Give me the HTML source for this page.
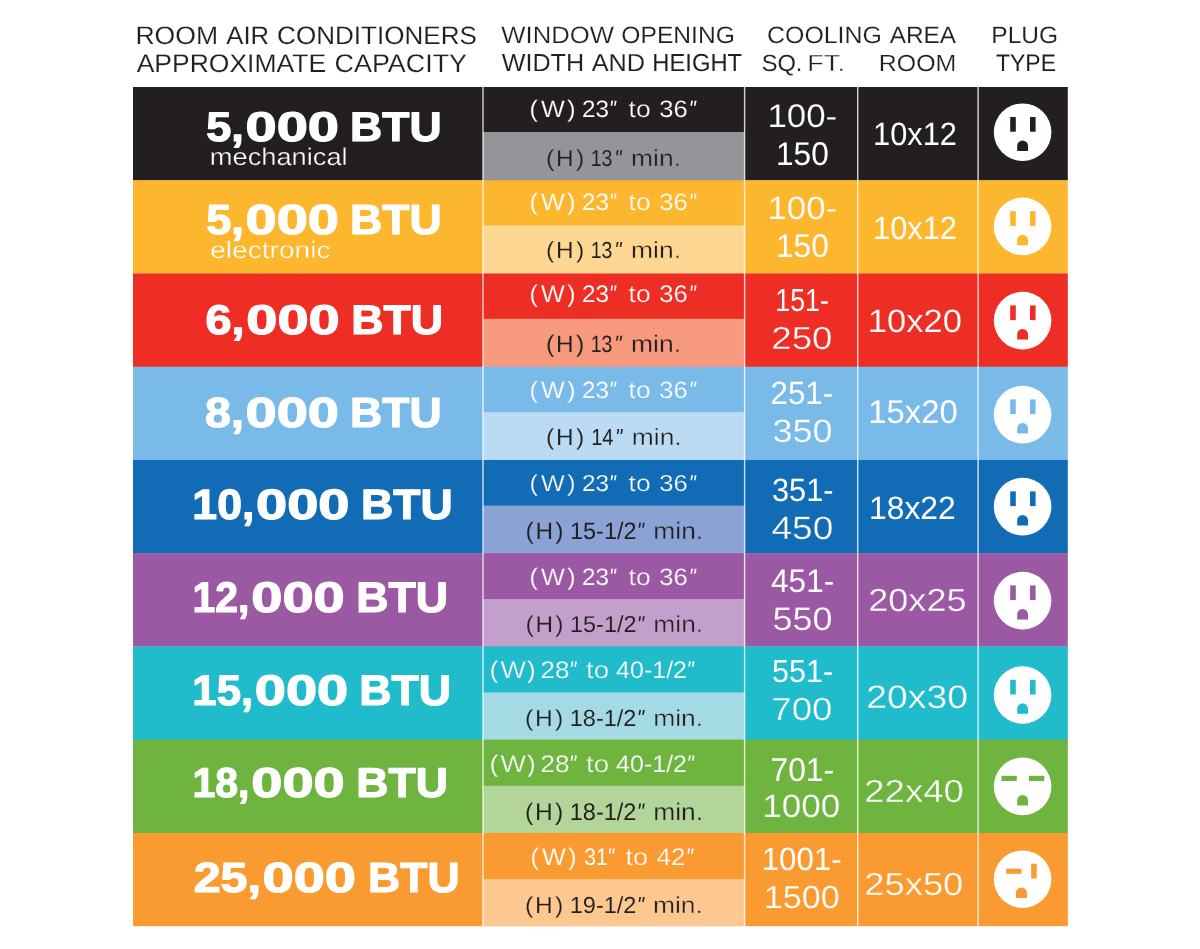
<!DOCTYPE html>
<html lang="en">
<head>
<meta charset="utf-8">
<title>Room Air Conditioners Approximate Capacity</title>
<style>
html,body{margin:0;padding:0;background:#fff}
body{width:1200px;height:949px;overflow:hidden}
svg{display:block;font-family:"Liberation Sans",sans-serif}
text{white-space:pre;text-rendering:geometricPrecision}
</style>
</head>
<body>
<svg width="1200" height="949" viewBox="0 0 1200 949">
<rect width="1200" height="949" fill="#fff"/>
<g id="header">
  <text y="44" font-size="25.17" fill="#231f20"><tspan x="135.42" textLength="82.67" lengthAdjust="spacingAndGlyphs" stroke="#fff" stroke-width="0.16">ROOM</tspan> <tspan x="226.30" textLength="42.89" lengthAdjust="spacingAndGlyphs" stroke="#fff" stroke-width="0.09">AIR</tspan> <tspan x="277.08" textLength="199.82" lengthAdjust="spacingAndGlyphs" stroke="#fff" stroke-width="0.12">CONDITIONERS</tspan></text>
  <text y="72" font-size="25.60" fill="#231f20"><tspan x="136.70" textLength="189.41" lengthAdjust="spacingAndGlyphs" stroke="#fff" stroke-width="0.12">APPROXIMATE</tspan> <tspan x="334.54" textLength="132.45" lengthAdjust="spacingAndGlyphs" stroke="#fff" stroke-width="0.15">CAPACITY</tspan></text>
  <text y="43" font-size="23.75" fill="#231f20"><tspan x="501.30" textLength="112.66" lengthAdjust="spacingAndGlyphs" stroke="#fff" stroke-width="0.21">WINDOW</tspan> <tspan x="621.35" textLength="113.49" lengthAdjust="spacingAndGlyphs" stroke="#fff" stroke-width="0.12">OPENING</tspan></text>
  <text y="71" font-size="24.60" fill="#231f20"><tspan x="501.70" textLength="82.35" lengthAdjust="spacingAndGlyphs" stroke="#fff" stroke-width="0.09">WIDTH</tspan> <tspan x="591.70" textLength="53.38" lengthAdjust="spacingAndGlyphs" stroke="#fff" stroke-width="0.10">AND</tspan> <tspan x="652.34" textLength="89.76" lengthAdjust="spacingAndGlyphs">HEIGHT</tspan></text>
  <text y="43" font-size="23.75" fill="#231f20"><tspan x="767.13" textLength="114.72" lengthAdjust="spacingAndGlyphs" stroke="#fff" stroke-width="0.14">COOLING</tspan> <tspan x="889.70" textLength="66.48" lengthAdjust="spacingAndGlyphs" stroke="#fff" stroke-width="0.10">AREA</tspan></text>
  <text y="71" font-size="23.32" fill="#231f20"><tspan x="761.66" textLength="40.78" lengthAdjust="spacingAndGlyphs" stroke="#fff" stroke-width="0.07">SQ.</tspan> <tspan x="807.28" textLength="37.67" lengthAdjust="spacingAndGlyphs" stroke="#fff" stroke-width="0.36">FT.</tspan></text>
  <text y="71" font-size="23.32" fill="#231f20"><tspan x="878.85" textLength="77.53" lengthAdjust="spacingAndGlyphs" stroke="#fff" stroke-width="0.19">ROOM</tspan></text>
  <text y="43" font-size="23.75" fill="#231f20"><tspan x="991.39" textLength="66.75" lengthAdjust="spacingAndGlyphs" stroke="#fff" stroke-width="0.11">PLUG</tspan></text>
  <text y="71" font-size="23.89" fill="#231f20"><tspan x="996.04" textLength="59.92" lengthAdjust="spacingAndGlyphs">TYPE</tspan></text>
</g>
<g id="row-1">
  <rect x="133.0" y="87.00" width="934.80" height="93.54" fill="#231f20"/>
  <rect x="483.0" y="132.00" width="261.60" height="48.54" fill="#939598"/>
  <text y="141" font-size="41.46" font-weight="700" fill="#fff" stroke="#fff" stroke-width="1.2" stroke-linejoin="round"><tspan x="206.25" textLength="37.56" lengthAdjust="spacingAndGlyphs">5,</tspan><tspan x="245.56" textLength="93.40" lengthAdjust="spacingAndGlyphs">000</tspan> <tspan x="350.06" textLength="91.64" lengthAdjust="spacingAndGlyphs">BTU</tspan></text>
  <text y="165" font-size="24.24" fill="#fff"><tspan x="209.80" textLength="137.90" lengthAdjust="spacingAndGlyphs" stroke="#231f20" stroke-width="0.31">mechanical</tspan></text>
  <text y="117" font-size="23.75" fill="#fff"><tspan x="529.53" textLength="8.29" lengthAdjust="spacingAndGlyphs" stroke="#231f20" stroke-width="0.14">(</tspan><tspan x="540.90" textLength="23.77" lengthAdjust="spacingAndGlyphs" stroke="#231f20" stroke-width="0.17">W</tspan><tspan x="567.20" textLength="8.29" lengthAdjust="spacingAndGlyphs" stroke="#231f20" stroke-width="0.14">)</tspan> <tspan x="581.96" textLength="27.02" lengthAdjust="spacingAndGlyphs" stroke="#231f20" stroke-width="0.09">23</tspan><tspan x="608.90" textLength="6.82" lengthAdjust="spacingAndGlyphs" font-style="italic">&quot;</tspan> <tspan x="628.60" textLength="22.07" lengthAdjust="spacingAndGlyphs" stroke="#231f20" stroke-width="0.28">to</tspan> <tspan x="659.20" textLength="28.43" lengthAdjust="spacingAndGlyphs" stroke="#231f20" stroke-width="0.20">36</tspan><tspan x="688.85" textLength="7.03" lengthAdjust="spacingAndGlyphs" font-style="italic">&quot;</tspan></text>
  <text y="166" font-size="23.04" fill="#231f20"><tspan x="546.13" textLength="8.29" lengthAdjust="spacingAndGlyphs" stroke="#939598" stroke-width="0.21">(</tspan><tspan x="556.10" textLength="17.59" lengthAdjust="spacingAndGlyphs" stroke="#939598" stroke-width="0.16">H</tspan><tspan x="576.00" textLength="8.29" lengthAdjust="spacingAndGlyphs" stroke="#939598" stroke-width="0.21">)</tspan> <tspan x="590.78" textLength="21.71" lengthAdjust="spacingAndGlyphs">13</tspan><tspan x="614.30" textLength="7.25" lengthAdjust="spacingAndGlyphs" font-style="italic">&quot;</tspan> <tspan x="631.05" textLength="49.94" lengthAdjust="spacingAndGlyphs" stroke="#939598" stroke-width="0.35">min.</tspan></text>
  <text y="127" font-size="32.57" fill="#fff"><tspan x="767.42" textLength="69.84" lengthAdjust="spacingAndGlyphs" stroke="#231f20" stroke-width="0.19">100-</tspan></text>
  <text y="165" font-size="32.85" fill="#fff"><tspan x="776.02" textLength="52.76" lengthAdjust="spacingAndGlyphs">150</tspan></text>
  <text y="145" font-size="32.28" fill="#fff"><tspan x="873.08" textLength="83.77" lengthAdjust="spacingAndGlyphs">10x12</tspan></text>
  <g class="plug"><circle cx="1022.60" cy="132.20" r="28.8" fill="#fff"/><rect x="1010.20" y="117.00" width="5.60" height="14.70" fill="#231f20"/><rect x="1030.00" y="117.00" width="5.60" height="14.70" fill="#231f20"/><path d="M1017.20 151.00V145.90A5.40 5.40 0 0 1 1028.00 145.90V151.00Z" fill="#231f20"/></g>
</g>
<g id="row-2">
  <rect x="133.0" y="180.24" width="934.80" height="93.54" fill="#fdb72f"/>
  <rect x="483.0" y="225.40" width="261.60" height="48.38" fill="#fed892"/>
  <text y="234" font-size="42.17" font-weight="700" fill="#fff" stroke="#fff" stroke-width="1.2" stroke-linejoin="round"><tspan x="206.24" textLength="37.58" lengthAdjust="spacingAndGlyphs">5,</tspan><tspan x="245.55" textLength="93.43" lengthAdjust="spacingAndGlyphs">000</tspan> <tspan x="350.05" textLength="91.66" lengthAdjust="spacingAndGlyphs">BTU</tspan></text>
  <text y="258" font-size="23.69" fill="#fff"><tspan x="210.22" textLength="120.32" lengthAdjust="spacingAndGlyphs" stroke="#fdb72f" stroke-width="0.36">electronic</tspan></text>
  <text y="210" font-size="23.75" fill="#fff"><tspan x="529.53" textLength="8.29" lengthAdjust="spacingAndGlyphs" stroke="#fdb72f" stroke-width="0.14">(</tspan><tspan x="540.90" textLength="23.77" lengthAdjust="spacingAndGlyphs" stroke="#fdb72f" stroke-width="0.17">W</tspan><tspan x="567.20" textLength="8.29" lengthAdjust="spacingAndGlyphs" stroke="#fdb72f" stroke-width="0.14">)</tspan> <tspan x="581.96" textLength="27.02" lengthAdjust="spacingAndGlyphs" stroke="#fdb72f" stroke-width="0.09">23</tspan><tspan x="608.90" textLength="6.82" lengthAdjust="spacingAndGlyphs" font-style="italic">&quot;</tspan> <tspan x="628.60" textLength="22.07" lengthAdjust="spacingAndGlyphs" stroke="#fdb72f" stroke-width="0.28">to</tspan> <tspan x="659.20" textLength="28.43" lengthAdjust="spacingAndGlyphs" stroke="#fdb72f" stroke-width="0.20">36</tspan><tspan x="688.85" textLength="7.03" lengthAdjust="spacingAndGlyphs" font-style="italic">&quot;</tspan></text>
  <text y="258" font-size="23.32" fill="#231f20"><tspan x="546.13" textLength="8.29" lengthAdjust="spacingAndGlyphs" stroke="#fed892" stroke-width="0.18">(</tspan><tspan x="556.10" textLength="17.59" lengthAdjust="spacingAndGlyphs" stroke="#fed892" stroke-width="0.14">H</tspan><tspan x="576.00" textLength="8.29" lengthAdjust="spacingAndGlyphs" stroke="#fed892" stroke-width="0.18">)</tspan> <tspan x="590.78" textLength="21.71" lengthAdjust="spacingAndGlyphs">13</tspan><tspan x="614.30" textLength="7.25" lengthAdjust="spacingAndGlyphs" font-style="italic">&quot;</tspan> <tspan x="631.05" textLength="49.94" lengthAdjust="spacingAndGlyphs" stroke="#fed892" stroke-width="0.32">min.</tspan></text>
  <text y="219" font-size="32.28" fill="#fff"><tspan x="767.42" textLength="69.84" lengthAdjust="spacingAndGlyphs" stroke="#fdb72f" stroke-width="0.21">100-</tspan></text>
  <text y="257" font-size="32.85" fill="#fff"><tspan x="776.02" textLength="52.76" lengthAdjust="spacingAndGlyphs">150</tspan></text>
  <text y="239" font-size="32.28" fill="#fff"><tspan x="873.08" textLength="83.77" lengthAdjust="spacingAndGlyphs">10x12</tspan></text>
  <g class="plug"><circle cx="1022.60" cy="226.40" r="28.8" fill="#fff"/><rect x="1010.20" y="211.20" width="5.60" height="14.70" fill="#fdb72f"/><rect x="1030.00" y="211.20" width="5.60" height="14.70" fill="#fdb72f"/><path d="M1017.20 245.20V240.10A5.40 5.40 0 0 1 1028.00 240.10V245.20Z" fill="#fdb72f"/></g>
</g>
<g id="row-3">
  <rect x="133.0" y="273.48" width="934.80" height="93.54" fill="#ee2d24"/>
  <rect x="483.0" y="318.80" width="261.60" height="48.22" fill="#f6997c"/>
  <text y="334" font-size="41.46" font-weight="700" fill="#fff" stroke="#fff" stroke-width="1.2" stroke-linejoin="round"><tspan x="205.51" textLength="39.08" lengthAdjust="spacingAndGlyphs">6,</tspan><tspan x="246.26" textLength="93.40" lengthAdjust="spacingAndGlyphs">000</tspan> <tspan x="351.15" textLength="91.95" lengthAdjust="spacingAndGlyphs">BTU</tspan></text>
  <text y="302" font-size="24.04" fill="#fff"><tspan x="529.53" textLength="8.29" lengthAdjust="spacingAndGlyphs" stroke="#ee2d24" stroke-width="0.12">(</tspan><tspan x="540.90" textLength="23.77" lengthAdjust="spacingAndGlyphs" stroke="#ee2d24" stroke-width="0.14">W</tspan><tspan x="567.20" textLength="8.29" lengthAdjust="spacingAndGlyphs" stroke="#ee2d24" stroke-width="0.12">)</tspan> <tspan x="581.96" textLength="27.02" lengthAdjust="spacingAndGlyphs" stroke="#ee2d24" stroke-width="0.07">23</tspan><tspan x="608.90" textLength="6.82" lengthAdjust="spacingAndGlyphs" font-style="italic">&quot;</tspan> <tspan x="628.60" textLength="22.07" lengthAdjust="spacingAndGlyphs" stroke="#ee2d24" stroke-width="0.26">to</tspan> <tspan x="659.20" textLength="28.43" lengthAdjust="spacingAndGlyphs" stroke="#ee2d24" stroke-width="0.18">36</tspan><tspan x="688.85" textLength="7.03" lengthAdjust="spacingAndGlyphs" font-style="italic">&quot;</tspan></text>
  <text y="352" font-size="23.75" fill="#231f20"><tspan x="546.13" textLength="8.29" lengthAdjust="spacingAndGlyphs" stroke="#f6997c" stroke-width="0.14">(</tspan><tspan x="556.10" textLength="17.59" lengthAdjust="spacingAndGlyphs" stroke="#f6997c" stroke-width="0.10">H</tspan><tspan x="576.00" textLength="8.29" lengthAdjust="spacingAndGlyphs" stroke="#f6997c" stroke-width="0.14">)</tspan> <tspan x="590.78" textLength="21.71" lengthAdjust="spacingAndGlyphs">13</tspan><tspan x="614.30" textLength="7.25" lengthAdjust="spacingAndGlyphs" font-style="italic">&quot;</tspan> <tspan x="631.05" textLength="49.94" lengthAdjust="spacingAndGlyphs" stroke="#f6997c" stroke-width="0.28">min.</tspan></text>
  <text y="311" font-size="31.86" fill="#fff"><tspan x="775.32" textLength="53.64" lengthAdjust="spacingAndGlyphs">151-</tspan></text>
  <text y="349" font-size="31.86" fill="#fff"><tspan x="771.28" textLength="61.23" lengthAdjust="spacingAndGlyphs" stroke="#ee2d24" stroke-width="0.36">250</tspan></text>
  <text y="332" font-size="32.28" fill="#fff"><tspan x="867.84" textLength="94.02" lengthAdjust="spacingAndGlyphs" stroke="#ee2d24" stroke-width="0.19">10x20</tspan></text>
  <g class="plug"><circle cx="1022.60" cy="320.60" r="28.8" fill="#fff"/><rect x="1010.20" y="305.40" width="5.60" height="14.70" fill="#ee2d24"/><rect x="1030.00" y="305.40" width="5.60" height="14.70" fill="#ee2d24"/><path d="M1017.20 339.40V334.30A5.40 5.40 0 0 1 1028.00 334.30V339.40Z" fill="#ee2d24"/></g>
</g>
<g id="row-4">
  <rect x="133.0" y="366.72" width="934.80" height="93.54" fill="#7abae9"/>
  <rect x="483.0" y="412.20" width="261.60" height="48.06" fill="#bbdaf3"/>
  <text y="427" font-size="42.17" font-weight="700" fill="#fff" stroke="#fff" stroke-width="1.2" stroke-linejoin="round"><tspan x="205.11" textLength="38.78" lengthAdjust="spacingAndGlyphs">8,</tspan><tspan x="245.55" textLength="93.43" lengthAdjust="spacingAndGlyphs">000</tspan> <tspan x="350.05" textLength="91.66" lengthAdjust="spacingAndGlyphs">BTU</tspan></text>
  <text y="398" font-size="23.61" fill="#fff"><tspan x="529.53" textLength="8.29" lengthAdjust="spacingAndGlyphs" stroke="#7abae9" stroke-width="0.16">(</tspan><tspan x="540.90" textLength="23.77" lengthAdjust="spacingAndGlyphs" stroke="#7abae9" stroke-width="0.18">W</tspan><tspan x="567.20" textLength="8.29" lengthAdjust="spacingAndGlyphs" stroke="#7abae9" stroke-width="0.16">)</tspan> <tspan x="581.96" textLength="27.02" lengthAdjust="spacingAndGlyphs" stroke="#7abae9" stroke-width="0.10">23</tspan><tspan x="608.90" textLength="6.82" lengthAdjust="spacingAndGlyphs" font-style="italic">&quot;</tspan> <tspan x="628.60" textLength="22.07" lengthAdjust="spacingAndGlyphs" stroke="#7abae9" stroke-width="0.30">to</tspan> <tspan x="659.20" textLength="28.43" lengthAdjust="spacingAndGlyphs" stroke="#7abae9" stroke-width="0.22">36</tspan><tspan x="688.85" textLength="7.03" lengthAdjust="spacingAndGlyphs" font-style="italic">&quot;</tspan></text>
  <text y="445" font-size="23.32" fill="#231f20"><tspan x="546.13" textLength="8.29" lengthAdjust="spacingAndGlyphs" stroke="#bbdaf3" stroke-width="0.18">(</tspan><tspan x="556.10" textLength="17.59" lengthAdjust="spacingAndGlyphs" stroke="#bbdaf3" stroke-width="0.14">H</tspan><tspan x="576.00" textLength="8.29" lengthAdjust="spacingAndGlyphs" stroke="#bbdaf3" stroke-width="0.18">)</tspan> <tspan x="591.14" textLength="22.36" lengthAdjust="spacingAndGlyphs">14</tspan><tspan x="614.90" textLength="7.25" lengthAdjust="spacingAndGlyphs" font-style="italic">&quot;</tspan> <tspan x="631.75" textLength="49.94" lengthAdjust="spacingAndGlyphs" stroke="#bbdaf3" stroke-width="0.32">min.</tspan></text>
  <text y="404" font-size="32.28" fill="#fff"><tspan x="770.53" textLength="62.60" lengthAdjust="spacingAndGlyphs">251-</tspan></text>
  <text y="442" font-size="32.28" fill="#fff"><tspan x="772.48" textLength="60.02" lengthAdjust="spacingAndGlyphs" stroke="#7abae9" stroke-width="0.28">350</tspan></text>
  <text y="423" font-size="32.85" fill="#fff"><tspan x="868.35" textLength="89.47" lengthAdjust="spacingAndGlyphs">15x20</tspan></text>
  <g class="plug"><circle cx="1022.60" cy="414.60" r="28.8" fill="#fff"/><rect x="1010.20" y="399.40" width="5.60" height="14.70" fill="#7abae9"/><rect x="1030.00" y="399.40" width="5.60" height="14.70" fill="#7abae9"/><path d="M1017.20 433.40V428.30A5.40 5.40 0 0 1 1028.00 428.30V433.40Z" fill="#7abae9"/></g>
</g>
<g id="row-5">
  <rect x="133.0" y="459.96" width="934.80" height="93.54" fill="#126bb5"/>
  <rect x="483.0" y="505.60" width="261.60" height="47.90" fill="#8aa3d4"/>
  <text y="519" font-size="42.38" font-weight="700" fill="#fff" stroke="#fff" stroke-width="1.2" stroke-linejoin="round"><tspan x="192.35" textLength="61.96" lengthAdjust="spacingAndGlyphs">10,</tspan><tspan x="256.04" textLength="93.43" lengthAdjust="spacingAndGlyphs">000</tspan> <tspan x="361.04" textLength="91.67" lengthAdjust="spacingAndGlyphs">BTU</tspan></text>
  <text y="491" font-size="23.04" fill="#fff"><tspan x="529.53" textLength="8.29" lengthAdjust="spacingAndGlyphs" stroke="#126bb5" stroke-width="0.21">(</tspan><tspan x="540.90" textLength="23.77" lengthAdjust="spacingAndGlyphs" stroke="#126bb5" stroke-width="0.24">W</tspan><tspan x="567.20" textLength="8.29" lengthAdjust="spacingAndGlyphs" stroke="#126bb5" stroke-width="0.21">)</tspan> <tspan x="581.96" textLength="27.02" lengthAdjust="spacingAndGlyphs" stroke="#126bb5" stroke-width="0.16">23</tspan><tspan x="608.90" textLength="6.82" lengthAdjust="spacingAndGlyphs" font-style="italic">&quot;</tspan> <tspan x="628.60" textLength="22.07" lengthAdjust="spacingAndGlyphs" stroke="#126bb5" stroke-width="0.36">to</tspan> <tspan x="659.20" textLength="28.43" lengthAdjust="spacingAndGlyphs" stroke="#126bb5" stroke-width="0.27">36</tspan><tspan x="688.85" textLength="7.03" lengthAdjust="spacingAndGlyphs" font-style="italic">&quot;</tspan></text>
  <text y="539" font-size="23.75" fill="#231f20"><tspan x="525.43" textLength="8.29" lengthAdjust="spacingAndGlyphs" stroke="#8aa3d4" stroke-width="0.14">(</tspan><tspan x="535.40" textLength="17.59" lengthAdjust="spacingAndGlyphs" stroke="#8aa3d4" stroke-width="0.10">H</tspan><tspan x="555.30" textLength="8.29" lengthAdjust="spacingAndGlyphs" stroke="#8aa3d4" stroke-width="0.14">)</tspan> <tspan x="570.04" textLength="66.41" lengthAdjust="spacingAndGlyphs">15-1/2</tspan><tspan x="636.70" textLength="7.25" lengthAdjust="spacingAndGlyphs" font-style="italic">&quot;</tspan> <tspan x="653.35" textLength="49.83" lengthAdjust="spacingAndGlyphs" stroke="#8aa3d4" stroke-width="0.28">min.</tspan></text>
  <text y="501" font-size="32.28" fill="#fff"><tspan x="772.04" textLength="61.47" lengthAdjust="spacingAndGlyphs">351-</tspan></text>
  <text y="539" font-size="32.28" fill="#fff"><tspan x="771.42" textLength="61.90" lengthAdjust="spacingAndGlyphs" stroke="#126bb5" stroke-width="0.36">450</tspan></text>
  <text y="519" font-size="32.28" fill="#fff"><tspan x="869.01" textLength="86.68" lengthAdjust="spacingAndGlyphs">18x22</tspan></text>
  <g class="plug"><circle cx="1022.60" cy="506.60" r="28.8" fill="#fff"/><rect x="1010.20" y="491.40" width="5.60" height="14.70" fill="#126bb5"/><rect x="1030.00" y="491.40" width="5.60" height="14.70" fill="#126bb5"/><path d="M1017.20 525.40V520.30A5.40 5.40 0 0 1 1028.00 520.30V525.40Z" fill="#126bb5"/></g>
</g>
<g id="row-6">
  <rect x="133.0" y="553.20" width="934.80" height="93.54" fill="#9b59a4"/>
  <rect x="483.0" y="599.00" width="261.60" height="47.74" fill="#c3a0cb"/>
  <text y="612" font-size="42.74" font-weight="700" fill="#fff" stroke="#fff" stroke-width="1.2" stroke-linejoin="round"><tspan x="192.52" textLength="56.93" lengthAdjust="spacingAndGlyphs">12,</tspan><tspan x="251.34" textLength="93.45" lengthAdjust="spacingAndGlyphs">000</tspan> <tspan x="356.34" textLength="91.78" lengthAdjust="spacingAndGlyphs">BTU</tspan></text>
  <text y="585" font-size="23.75" fill="#fff"><tspan x="529.53" textLength="8.29" lengthAdjust="spacingAndGlyphs" stroke="#9b59a4" stroke-width="0.14">(</tspan><tspan x="540.90" textLength="23.77" lengthAdjust="spacingAndGlyphs" stroke="#9b59a4" stroke-width="0.17">W</tspan><tspan x="567.20" textLength="8.29" lengthAdjust="spacingAndGlyphs" stroke="#9b59a4" stroke-width="0.14">)</tspan> <tspan x="581.96" textLength="27.02" lengthAdjust="spacingAndGlyphs" stroke="#9b59a4" stroke-width="0.09">23</tspan><tspan x="608.90" textLength="6.82" lengthAdjust="spacingAndGlyphs" font-style="italic">&quot;</tspan> <tspan x="628.60" textLength="22.07" lengthAdjust="spacingAndGlyphs" stroke="#9b59a4" stroke-width="0.28">to</tspan> <tspan x="659.20" textLength="28.43" lengthAdjust="spacingAndGlyphs" stroke="#9b59a4" stroke-width="0.20">36</tspan><tspan x="688.85" textLength="7.03" lengthAdjust="spacingAndGlyphs" font-style="italic">&quot;</tspan></text>
  <text y="632" font-size="23.04" fill="#231f20"><tspan x="525.43" textLength="8.29" lengthAdjust="spacingAndGlyphs" stroke="#c3a0cb" stroke-width="0.21">(</tspan><tspan x="535.40" textLength="17.59" lengthAdjust="spacingAndGlyphs" stroke="#c3a0cb" stroke-width="0.16">H</tspan><tspan x="555.30" textLength="8.29" lengthAdjust="spacingAndGlyphs" stroke="#c3a0cb" stroke-width="0.21">)</tspan> <tspan x="570.04" textLength="66.41" lengthAdjust="spacingAndGlyphs" stroke="#c3a0cb" stroke-width="0.08">15-1/2</tspan><tspan x="636.70" textLength="7.25" lengthAdjust="spacingAndGlyphs" font-style="italic">&quot;</tspan> <tspan x="653.35" textLength="49.83" lengthAdjust="spacingAndGlyphs" stroke="#c3a0cb" stroke-width="0.35">min.</tspan></text>
  <text y="592" font-size="32.57" fill="#fff"><tspan x="771.11" textLength="63.03" lengthAdjust="spacingAndGlyphs">451-</tspan></text>
  <text y="630" font-size="32.57" fill="#fff"><tspan x="772.48" textLength="60.02" lengthAdjust="spacingAndGlyphs" stroke="#9b59a4" stroke-width="0.26">550</tspan></text>
  <text y="611" font-size="32.00" fill="#fff"><tspan x="868.31" textLength="98.15" lengthAdjust="spacingAndGlyphs" stroke="#9b59a4" stroke-width="0.31">20x25</tspan></text>
  <g class="plug"><circle cx="1022.60" cy="600.60" r="28.8" fill="#fff"/><rect x="1010.20" y="585.40" width="5.60" height="14.70" fill="#9b59a4"/><rect x="1030.00" y="585.40" width="5.60" height="14.70" fill="#9b59a4"/><path d="M1017.20 619.40V614.30A5.40 5.40 0 0 1 1028.00 614.30V619.40Z" fill="#9b59a4"/></g>
</g>
<g id="row-7">
  <rect x="133.0" y="646.44" width="934.80" height="93.54" fill="#21bccb"/>
  <rect x="483.0" y="692.40" width="261.60" height="47.58" fill="#a3dae3"/>
  <text y="705" font-size="42.74" font-weight="700" fill="#fff" stroke="#fff" stroke-width="1.2" stroke-linejoin="round"><tspan x="192.38" textLength="60.68" lengthAdjust="spacingAndGlyphs">15,</tspan><tspan x="254.84" textLength="93.45" lengthAdjust="spacingAndGlyphs">000</tspan> <tspan x="359.34" textLength="91.78" lengthAdjust="spacingAndGlyphs">BTU</tspan></text>
  <text y="678" font-size="23.89" fill="#fff"><tspan x="489.83" textLength="8.29" lengthAdjust="spacingAndGlyphs" stroke="#21bccb" stroke-width="0.13">(</tspan><tspan x="500.60" textLength="25.45" lengthAdjust="spacingAndGlyphs" stroke="#21bccb" stroke-width="0.31">W</tspan><tspan x="527.20" textLength="8.29" lengthAdjust="spacingAndGlyphs" stroke="#21bccb" stroke-width="0.13">)</tspan> <tspan x="540.58" textLength="28.98" lengthAdjust="spacingAndGlyphs" stroke="#21bccb" stroke-width="0.23">28</tspan><tspan x="569.03" textLength="7.14" lengthAdjust="spacingAndGlyphs" font-style="italic">&quot;</tspan> <tspan x="586.00" textLength="23.12" lengthAdjust="spacingAndGlyphs" stroke="#21bccb" stroke-width="0.36">to</tspan> <tspan x="616.11" textLength="70.90" lengthAdjust="spacingAndGlyphs" stroke="#21bccb" stroke-width="0.14">40-1/2</tspan><tspan x="686.60" textLength="7.25" lengthAdjust="spacingAndGlyphs" font-style="italic">&quot;</tspan></text>
  <text y="726" font-size="23.18" fill="#231f20"><tspan x="525.13" textLength="8.29" lengthAdjust="spacingAndGlyphs" stroke="#a3dae3" stroke-width="0.20">(</tspan><tspan x="535.08" textLength="17.72" lengthAdjust="spacingAndGlyphs" stroke="#a3dae3" stroke-width="0.17">H</tspan><tspan x="555.00" textLength="8.29" lengthAdjust="spacingAndGlyphs" stroke="#a3dae3" stroke-width="0.20">)</tspan> <tspan x="569.73" textLength="66.72" lengthAdjust="spacingAndGlyphs" stroke="#a3dae3" stroke-width="0.07">18-1/2</tspan><tspan x="636.70" textLength="7.25" lengthAdjust="spacingAndGlyphs" font-style="italic">&quot;</tspan> <tspan x="653.15" textLength="49.94" lengthAdjust="spacingAndGlyphs" stroke="#a3dae3" stroke-width="0.34">min.</tspan></text>
  <text y="682" font-size="31.86" fill="#fff"><tspan x="772.05" textLength="61.06" lengthAdjust="spacingAndGlyphs">551-</tspan></text>
  <text y="720" font-size="31.86" fill="#fff"><tspan x="771.28" textLength="61.23" lengthAdjust="spacingAndGlyphs" stroke="#21bccb" stroke-width="0.36">700</tspan></text>
  <text y="708" font-size="32.57" fill="#fff"><tspan x="866.25" textLength="101.68" lengthAdjust="spacingAndGlyphs" stroke="#21bccb" stroke-width="0.35">20x30</tspan></text>
  <g class="plug"><circle cx="1022.60" cy="695.00" r="28.8" fill="#fff"/><rect x="1010.20" y="679.80" width="5.60" height="14.70" fill="#21bccb"/><rect x="1030.00" y="679.80" width="5.60" height="14.70" fill="#21bccb"/><path d="M1017.20 713.80V708.70A5.40 5.40 0 0 1 1028.00 708.70V713.80Z" fill="#21bccb"/></g>
</g>
<g id="row-8">
  <rect x="133.0" y="739.68" width="934.80" height="93.54" fill="#6eb43f"/>
  <rect x="483.0" y="785.80" width="261.60" height="47.42" fill="#b2d69a"/>
  <text y="797" font-size="41.81" font-weight="700" fill="#fff" stroke="#fff" stroke-width="1.2" stroke-linejoin="round"><tspan x="192.53" textLength="56.90" lengthAdjust="spacingAndGlyphs">18,</tspan><tspan x="251.35" textLength="93.41" lengthAdjust="spacingAndGlyphs">000</tspan> <tspan x="356.35" textLength="91.75" lengthAdjust="spacingAndGlyphs">BTU</tspan></text>
  <text y="772" font-size="23.89" fill="#fff"><tspan x="489.83" textLength="8.29" lengthAdjust="spacingAndGlyphs" stroke="#6eb43f" stroke-width="0.13">(</tspan><tspan x="500.60" textLength="25.45" lengthAdjust="spacingAndGlyphs" stroke="#6eb43f" stroke-width="0.31">W</tspan><tspan x="527.20" textLength="8.29" lengthAdjust="spacingAndGlyphs" stroke="#6eb43f" stroke-width="0.13">)</tspan> <tspan x="540.58" textLength="28.98" lengthAdjust="spacingAndGlyphs" stroke="#6eb43f" stroke-width="0.23">28</tspan><tspan x="569.03" textLength="7.14" lengthAdjust="spacingAndGlyphs" font-style="italic">&quot;</tspan> <tspan x="586.00" textLength="23.12" lengthAdjust="spacingAndGlyphs" stroke="#6eb43f" stroke-width="0.36">to</tspan> <tspan x="616.11" textLength="70.90" lengthAdjust="spacingAndGlyphs" stroke="#6eb43f" stroke-width="0.14">40-1/2</tspan><tspan x="686.60" textLength="7.25" lengthAdjust="spacingAndGlyphs" font-style="italic">&quot;</tspan></text>
  <text y="820" font-size="24.04" fill="#231f20"><tspan x="525.13" textLength="8.29" lengthAdjust="spacingAndGlyphs" stroke="#b2d69a" stroke-width="0.12">(</tspan><tspan x="535.08" textLength="17.72" lengthAdjust="spacingAndGlyphs" stroke="#b2d69a" stroke-width="0.09">H</tspan><tspan x="555.00" textLength="8.29" lengthAdjust="spacingAndGlyphs" stroke="#b2d69a" stroke-width="0.12">)</tspan> <tspan x="569.73" textLength="66.72" lengthAdjust="spacingAndGlyphs">18-1/2</tspan><tspan x="636.70" textLength="7.25" lengthAdjust="spacingAndGlyphs" font-style="italic">&quot;</tspan> <tspan x="653.15" textLength="49.94" lengthAdjust="spacingAndGlyphs" stroke="#b2d69a" stroke-width="0.25">min.</tspan></text>
  <text y="781" font-size="33.00" fill="#fff"><tspan x="770.51" textLength="63.64" lengthAdjust="spacingAndGlyphs">701-</tspan></text>
  <text y="817" font-size="32.28" fill="#fff"><tspan x="762.21" textLength="78.07" lengthAdjust="spacingAndGlyphs" stroke="#6eb43f" stroke-width="0.23">1000</tspan></text>
  <text y="802" font-size="31.86" fill="#fff"><tspan x="864.29" textLength="99.62" lengthAdjust="spacingAndGlyphs" stroke="#6eb43f" stroke-width="0.36">22x40</tspan></text>
  <g class="plug"><circle cx="1022.60" cy="786.40" r="28.8" fill="#fff"/><rect x="1001.50" y="775.80" width="15.30" height="5.20" fill="#6eb43f"/><rect x="1029.00" y="775.80" width="15.30" height="5.20" fill="#6eb43f"/><path d="M1017.20 805.50V800.40A5.40 5.40 0 0 1 1028.00 800.40V805.50Z" fill="#6eb43f"/></g>
</g>
<g id="row-9">
  <rect x="133.0" y="832.92" width="934.80" height="93.24" fill="#f99b30"/>
  <rect x="483.0" y="879.20" width="261.60" height="46.96" fill="#fdc88f"/>
  <text y="892" font-size="42.17" font-weight="700" fill="#fff" stroke="#fff" stroke-width="1.2" stroke-linejoin="round"><tspan x="193.68" textLength="67.30" lengthAdjust="spacingAndGlyphs">25,</tspan><tspan x="262.55" textLength="93.43" lengthAdjust="spacingAndGlyphs">000</tspan> <tspan x="368.05" textLength="91.56" lengthAdjust="spacingAndGlyphs">BTU</tspan></text>
  <text y="865" font-size="23.89" fill="#fff"><tspan x="530.63" textLength="8.29" lengthAdjust="spacingAndGlyphs" stroke="#f99b30" stroke-width="0.13">(</tspan><tspan x="542.00" textLength="23.77" lengthAdjust="spacingAndGlyphs" stroke="#f99b30" stroke-width="0.16">W</tspan><tspan x="568.20" textLength="8.29" lengthAdjust="spacingAndGlyphs" stroke="#f99b30" stroke-width="0.13">)</tspan> <tspan x="584.34" textLength="23.52" lengthAdjust="spacingAndGlyphs">31</tspan><tspan x="607.03" textLength="7.14" lengthAdjust="spacingAndGlyphs" font-style="italic">&quot;</tspan> <tspan x="625.50" textLength="22.60" lengthAdjust="spacingAndGlyphs" stroke="#f99b30" stroke-width="0.33">to</tspan> <tspan x="656.59" textLength="28.96" lengthAdjust="spacingAndGlyphs" stroke="#f99b30" stroke-width="0.23">42</tspan><tspan x="685.83" textLength="7.14" lengthAdjust="spacingAndGlyphs" font-style="italic">&quot;</tspan></text>
  <text y="913" font-size="23.18" fill="#231f20"><tspan x="525.13" textLength="8.29" lengthAdjust="spacingAndGlyphs" stroke="#fdc88f" stroke-width="0.20">(</tspan><tspan x="535.08" textLength="17.72" lengthAdjust="spacingAndGlyphs" stroke="#fdc88f" stroke-width="0.17">H</tspan><tspan x="555.00" textLength="8.29" lengthAdjust="spacingAndGlyphs" stroke="#fdc88f" stroke-width="0.20">)</tspan> <tspan x="569.73" textLength="66.72" lengthAdjust="spacingAndGlyphs" stroke="#fdc88f" stroke-width="0.07">19-1/2</tspan><tspan x="636.70" textLength="7.25" lengthAdjust="spacingAndGlyphs" font-style="italic">&quot;</tspan> <tspan x="652.95" textLength="49.94" lengthAdjust="spacingAndGlyphs" stroke="#fdc88f" stroke-width="0.34">min.</tspan></text>
  <text y="870" font-size="32.14" fill="#fff"><tspan x="761.64" textLength="80.09" lengthAdjust="spacingAndGlyphs">1001-</tspan></text>
  <text y="908" font-size="31.86" fill="#fff"><tspan x="763.87" textLength="75.99" lengthAdjust="spacingAndGlyphs" stroke="#f99b30" stroke-width="0.20">1500</tspan></text>
  <text y="895" font-size="31.86" fill="#fff"><tspan x="864.30" textLength="99.01" lengthAdjust="spacingAndGlyphs" stroke="#f99b30" stroke-width="0.34">25x50</tspan></text>
  <g class="plug"><circle cx="1022.60" cy="879.20" r="28.8" fill="#fff"/><rect x="1006.20" y="868.70" width="15.30" height="5.10" fill="#f99b30"/><rect x="1031.20" y="863.70" width="5.50" height="14.80" fill="#f99b30"/><path d="M1016.00 898.00V893.00A5.50 5.50 0 0 1 1027.00 893.00V898.00Z" fill="#f99b30"/></g>
</g>
<g id="separators" fill="#fff" fill-opacity="0.8">
  <rect x="482.30" y="87.0" width="1.4" height="839.16"/>
  <rect x="743.90" y="87.0" width="1.4" height="839.16"/>
  <rect x="857.00" y="87.0" width="1.4" height="839.16"/>
  <rect x="977.40" y="87.0" width="1.4" height="839.16"/>
</g>
</svg>
</body>
</html>
